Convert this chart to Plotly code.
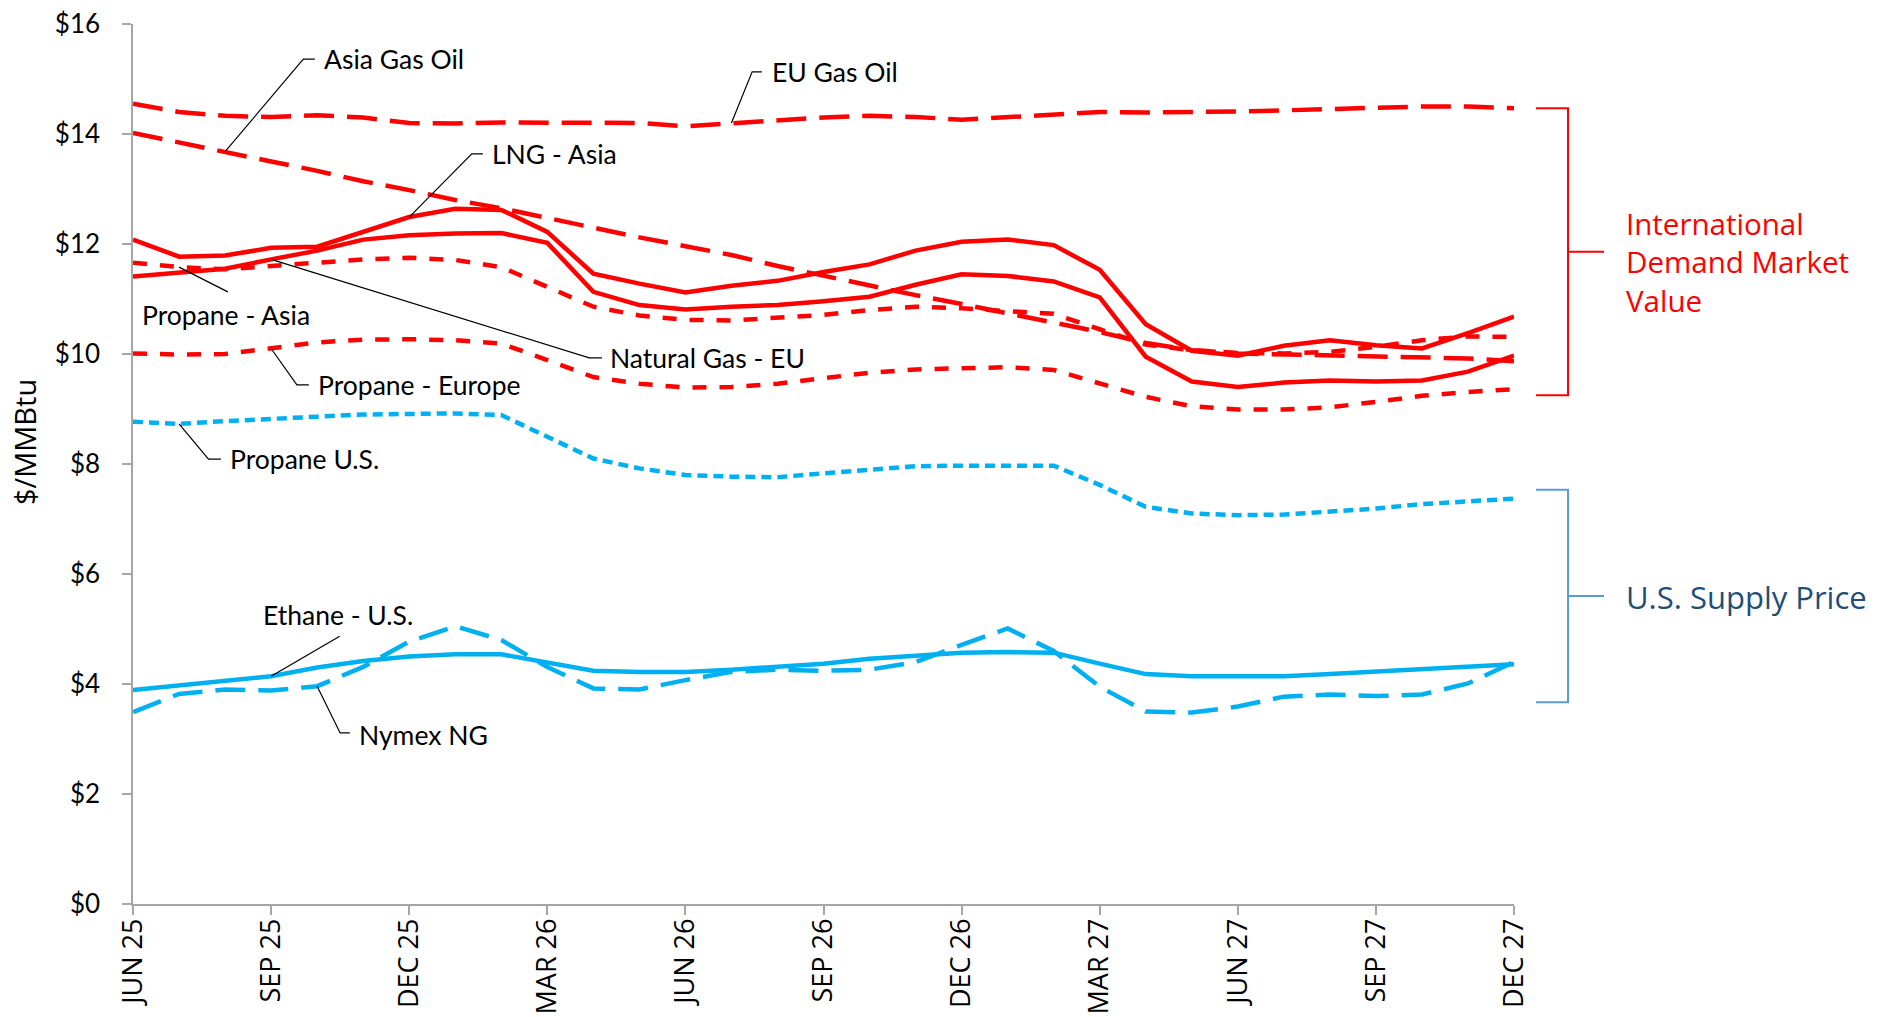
import plotly.graph_objects as go

# Monthly forward curve, Jun 2025 - Dec 2027 ($/MMBtu)
months = ["JUN 25", "JUL 25", "AUG 25", "SEP 25", "OCT 25", "NOV 25", "DEC 25",
          "JAN 26", "FEB 26", "MAR 26", "APR 26", "MAY 26", "JUN 26", "JUL 26",
          "AUG 26", "SEP 26", "OCT 26", "NOV 26", "DEC 26", "JAN 27", "FEB 27",
          "MAR 27", "APR 27", "MAY 27", "JUN 27", "JUL 27", "AUG 27", "SEP 27",
          "OCT 27", "NOV 27", "DEC 27"]

eu_gas_oil = [14.55, 14.40, 14.33, 14.31, 14.34, 14.30, 14.20, 14.19, 14.21, 14.21,
              14.21, 14.20, 14.14, 14.20, 14.25, 14.30, 14.33, 14.31, 14.26, 14.31,
              14.36, 14.40, 14.39, 14.39, 14.41, 14.43, 14.46, 14.48, 14.50, 14.50, 14.47]
asia_gas_oil = [14.02, 13.84, 13.68, 13.50, 13.33, 13.14, 12.98, 12.80, 12.65, 12.47,
                12.30, 12.12, 11.96, 11.80, 11.60, 11.42, 11.24, 11.07, 10.91, 10.74,
                10.59, 10.40, 10.20, 10.07, 10.01, 9.99, 9.98, 9.96, 9.95, 9.92, 9.87]
lng_asia = [12.08, 11.77, 11.79, 11.93, 11.95, 12.23, 12.49, 12.64, 12.62, 12.22,
            11.46, 11.28, 11.12, 11.24, 11.33, 11.49, 11.63, 11.88, 12.04, 12.08,
            11.98, 11.53, 10.54, 10.06, 9.97, 10.15, 10.25, 10.16, 10.10, 10.38, 10.68]
natural_gas_eu = [11.41, 11.49, 11.55, 11.72, 11.88, 12.08, 12.16, 12.19, 12.20, 12.02,
                  11.13, 10.89, 10.81, 10.86, 10.89, 10.96, 11.04, 11.26, 11.45, 11.42,
                  11.32, 11.03, 9.95, 9.50, 9.40, 9.48, 9.52, 9.50, 9.52, 9.68, 9.97]
propane_asia = [11.66, 11.58, 11.54, 11.60, 11.67, 11.72, 11.75, 11.71, 11.58, 11.22,
                10.86, 10.70, 10.62, 10.61, 10.65, 10.71, 10.80, 10.86, 10.83, 10.78,
                10.73, 10.45, 10.17, 10.07, 10.02, 10.01, 10.04, 10.13, 10.25, 10.32, 10.31]
propane_europe = [10.01, 9.99, 10.00, 10.10, 10.21, 10.26, 10.27, 10.25, 10.19, 9.89,
                  9.58, 9.46, 9.39, 9.40, 9.46, 9.56, 9.66, 9.72, 9.74, 9.76,
                  9.71, 9.46, 9.22, 9.05, 8.99, 8.99, 9.03, 9.13, 9.24, 9.31, 9.36]
propane_us = [8.77, 8.73, 8.78, 8.81, 8.86, 8.90, 8.92, 8.92, 8.89, 8.50,
              8.10, 7.92, 7.80, 7.77, 7.76, 7.83, 7.90, 7.96, 7.97, 7.98,
              7.97, 7.62, 7.22, 7.10, 7.07, 7.08, 7.13, 7.19, 7.27, 7.33, 7.37]
ethane_us = [3.89, 3.98, 4.05, 4.14, 4.30, 4.42, 4.50, 4.54, 4.54, 4.40,
             4.24, 4.22, 4.22, 4.26, 4.31, 4.37, 4.46, 4.52, 4.57, 4.58,
             4.57, 4.37, 4.18, 4.14, 4.13, 4.14, 4.18, 4.22, 4.26, 4.31, 4.36]
nymex_ng = [3.49, 3.82, 3.90, 3.88, 3.96, 4.31, 4.77, 5.05, 4.80, 4.31,
            3.92, 3.90, 4.07, 4.22, 4.26, 4.24, 4.26, 4.40, 4.71, 5.01,
            4.60, 3.95, 3.50, 3.48, 3.59, 3.77, 3.81, 3.78, 3.81, 4.01, 4.40]

y_ticks = [0, 2, 4, 6, 8, 10, 12, 14, 16]
y_tick_text = ["$0", "$2", "$4", "$6", "$8", "$10", "$12", "$14", "$16"]

RED = "#FF0000"
BLUE = "#00B0F0"
LONG_DASH = "30px,13px"
SHORT_DASH = "14px,13px"
TINY_DASH = "10px,6px"
LW = 4.5

x = list(range(len(months)))

series = [
    ("EU Gas Oil", eu_gas_oil, RED, LONG_DASH),
    ("Asia Gas Oil", asia_gas_oil, RED, LONG_DASH),
    ("Propane - Asia", propane_asia, RED, SHORT_DASH),
    ("Propane - Europe", propane_europe, RED, SHORT_DASH),
    ("LNG - Asia", lng_asia, RED, "solid"),
    ("Natural Gas - EU", natural_gas_eu, RED, "solid"),
    ("Propane U.S.", propane_us, BLUE, TINY_DASH),
    ("Nymex NG", nymex_ng, BLUE, LONG_DASH),
    ("Ethane - U.S.", ethane_us, BLUE, "solid"),
]
values_by_name = {name: vals for name, vals, _, _ in series}

fig = go.Figure()
for name, vals, color, dash in series:
    fig.add_trace(go.Scatter(
        x=x, y=vals, mode="lines", name=name,
        line=dict(color=color, width=LW, dash=dash),
        hoverinfo="x+y+name",
    ))

# Leader-line labels: (text, series, anchor month, bend points, text position, anchor)
labels = [
    ("Asia Gas Oil", "Asia Gas Oil", 2, [(3.70, 15.36), (3.95, 15.36)], (4.10, 15.36), "left"),
    ("EU Gas Oil", "EU Gas Oil", 13, [(13.45, 15.13), (13.66, 15.13)], (13.83, 15.13), "left"),
    ("LNG - Asia", "LNG - Asia", 6, [(7.36, 13.64), (7.60, 13.64)], (7.75, 13.64), "left"),
    ("Propane - Asia", "Propane - Asia", 1, [(2.06, 11.13)], (0.16, 10.71), "left"),
    ("Natural Gas - EU", "Natural Gas - EU", 3, [(9.91, 9.93), (10.19, 9.93)], (10.32, 9.93), "left"),
    ("Propane - Europe", "Propane - Europe", 3, [(3.56, 9.44), (3.82, 9.44)], (3.98, 9.44), "left"),
    ("Propane U.S.", "Propane U.S.", 1, [(1.64, 8.09), (1.91, 8.09)], (2.06, 8.09), "left"),
    ("Ethane - U.S.", "Ethane - U.S.", 3, [(4.49, 4.87)], (4.45, 5.25), "center"),
    ("Nymex NG", "Nymex NG", 4, [(4.50, 3.11), (4.71, 3.11)], (4.87, 3.08), "left"),
]

LABEL_FONT = dict(family="Lato, 'Open Sans', sans-serif", size=26.5, color="#000000")

for text, sname, m, bends, (tx, ty), xa in labels:
    pts = [(m, values_by_name[sname][m])] + bends
    path = "M " + " L ".join(f"{px},{py}" for px, py in pts)
    fig.add_shape(type="path", path=path, xref="x", yref="y",
                  line=dict(color="#000000", width=1.2), layer="above")
    fig.add_annotation(x=tx, y=ty, xref="x", yref="y", text=text, showarrow=False,
                       xanchor=xa, yanchor="middle", font=LABEL_FONT)

# Group brackets on the right side (paper x, data y)
def bracket(y_top, y_bot, color):
    x_left, x_vert, x_tick = 1.0159, 1.0391, 1.0652
    y_mid = (y_top + y_bot) / 2
    fig.add_shape(type="path", xref="paper", yref="y",
                  path=f"M {x_left},{y_top} L {x_vert},{y_top} L {x_vert},{y_bot} L {x_left},{y_bot}",
                  line=dict(color=color, width=2))
    fig.add_shape(type="line", xref="paper", yref="y",
                  x0=x_vert, x1=x_tick, y0=y_mid, y1=y_mid,
                  line=dict(color=color, width=2))

bracket(14.47, 9.25, RED)
bracket(7.53, 3.67, "#5B9BD5")

GROUP_FONT = "'Open Sans', sans-serif"
fig.add_annotation(x=1.0797, y=11.68, xref="paper", yref="y",
                   text="International<br>Demand Market<br>Value",
                   showarrow=False, xanchor="left", yanchor="middle", align="left",
                   font=dict(family=GROUP_FONT, size=29.5, color=RED))
fig.add_annotation(x=1.0797, y=5.58, xref="paper", yref="y", text="U.S. Supply Price",
                   showarrow=False, xanchor="left", yanchor="middle",
                   font=dict(family=GROUP_FONT, size=31, color="#1F4E79"))

# Y-axis title
fig.add_annotation(x=-0.0789, y=8.4, xref="paper", yref="y", text="$/MMBtu",
                   showarrow=False, textangle=-90, xanchor="center", yanchor="middle",
                   font=dict(family=GROUP_FONT, size=29, color="#000000"))

AXIS_GRAY = "#A6A6A6"
fig.update_layout(
    width=1877, height=1017,
    margin=dict(l=133, r=363, t=24, b=113),
    paper_bgcolor="white", plot_bgcolor="white",
    showlegend=False,
    xaxis=dict(
        range=[0, 30], tickmode="array", tickvals=x[::3], ticktext=months[::3],
        tickangle=-90, ticks="outside", ticklen=9, tickcolor=AXIS_GRAY, tickwidth=1.5,
        showline=True, linecolor=AXIS_GRAY, linewidth=1.5,
        showgrid=False, zeroline=False, automargin=False, ticklabelstandoff=-7,
        tickfont=dict(family=GROUP_FONT, size=27, color="#000000"),
    ),
    yaxis=dict(
        range=[0, 16], tickmode="array", tickvals=y_ticks, ticktext=y_tick_text,
        ticks="outside", ticklen=9, tickcolor=AXIS_GRAY, tickwidth=1.5,
        showline=True, linecolor=AXIS_GRAY, linewidth=1.5,
        showgrid=False, zeroline=False, ticklabelstandoff=17, automargin=False,
        tickfont=dict(family="Lato, sans-serif", size=26, color="#000000"),
    ),
)

fig.write_html("out.html")
